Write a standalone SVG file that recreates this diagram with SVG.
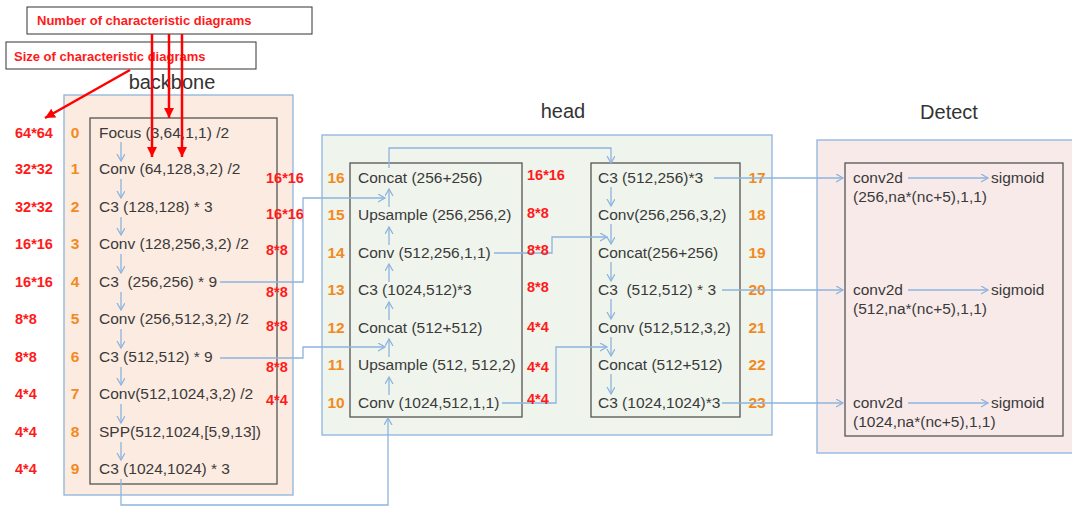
<svg xmlns="http://www.w3.org/2000/svg" width="1072" height="507" viewBox="0 0 1072 507">
<style>
.t{font-family:"Liberation Sans",Arial,sans-serif;font-size:15.5px;fill:#3a3a3a;white-space:pre}
.n{font-family:"Liberation Sans",Arial,sans-serif;font-size:15.5px;font-weight:bold;fill:#f28a22;text-anchor:middle}
.r{font-family:"Liberation Sans",Arial,sans-serif;font-size:13px;font-weight:bold;fill:#ff1a1a}
.s{font-family:"Liberation Sans",Arial,sans-serif;font-size:14.5px;font-weight:bold;fill:#ff1a1a}
.h{font-family:"Liberation Sans",Arial,sans-serif;font-size:20px;fill:#333;text-anchor:middle}
.c{fill:none;stroke:#8db4de;stroke-width:1.3}
.ca{fill:none;stroke:#8db4de;stroke-width:1.3;marker-end:url(#ah)}
.rl{stroke:#ff0000;stroke-width:2.5;fill:none;marker-end:url(#rh)}
.box{fill:none;stroke:#555;stroke-width:1.3}
</style>
<defs>
<marker id="ah" markerUnits="userSpaceOnUse" markerWidth="10" markerHeight="10" refX="7" refY="4" orient="auto">
<path d="M0,0 L7,4 L0,8" fill="none" stroke="#8db4de" stroke-width="1.3"/>
</marker>
<marker id="rh" markerUnits="userSpaceOnUse" markerWidth="14" markerHeight="14" refX="10" refY="5" orient="auto">
<path d="M0,0 L10,5 L0,10 Z" fill="#ff0000"/>
</marker>
</defs>

<g id="backbone">
<rect x="64" y="95" width="229" height="400" fill="#fcebe1" stroke="#8db4de" stroke-width="1.3"/>
<text class="h" x="172" y="89">backbone</text>
<rect class="box" x="90" y="118" width="187" height="366"/>
<g class="bb-rows">
<text class="n" x="75" y="138">0</text><text class="t" x="99" y="138">Focus (3,64,1,1) /2</text>
<text class="n" x="75" y="174">1</text><text class="t" x="99" y="174">Conv (64,128,3,2) /2</text>
<text class="n" x="75" y="212">2</text><text class="t" x="99" y="212">C3 (128,128) * 3</text>
<text class="n" x="75" y="249">3</text><text class="t" x="99" y="249">Conv (128,256,3,2) /2</text>
<text class="n" x="75" y="287">4</text><text class="t" x="99" y="287">C3  (256,256) * 9</text>
<text class="n" x="75" y="324">5</text><text class="t" x="99" y="324">Conv (256,512,3,2) /2</text>
<text class="n" x="75" y="362">6</text><text class="t" x="99" y="362">C3 (512,512) * 9</text>
<text class="n" x="75" y="399">7</text><text class="t" x="99" y="399">Conv(512,1024,3,2) /2</text>
<text class="n" x="75" y="437">8</text><text class="t" x="99" y="437">SPP(512,1024,[5,9,13])</text>
<text class="n" x="75" y="474">9</text><text class="t" x="99" y="474">C3 (1024,1024) * 3</text>
</g>
</g>

<g id="head">
<rect x="322" y="135" width="450" height="300" fill="#eff4ec" stroke="#8db4de" stroke-width="1.3"/>
<text class="h" x="563" y="118">head</text>
<rect class="box" x="350" y="163" width="172" height="254"/>
<rect class="box" x="591" y="163" width="149" height="254"/>
<text class="n" x="336" y="183">16</text><text class="t" x="358" y="183">Concat (256+256)</text>
<text class="n" x="336" y="220">15</text><text class="t" x="358" y="220">Upsample (256,256,2)</text>
<text class="n" x="336" y="258">14</text><text class="t" x="358" y="258">Conv (512,256,1,1)</text>
<text class="n" x="336" y="295">13</text><text class="t" x="358" y="295">C3 (1024,512)*3</text>
<text class="n" x="336" y="333">12</text><text class="t" x="358" y="333">Concat (512+512)</text>
<text class="n" x="336" y="370">11</text><text class="t" x="358" y="370">Upsample (512, 512,2)</text>
<text class="n" x="336" y="408">10</text><text class="t" x="358" y="408">Conv (1024,512,1,1)</text>
<text class="n" x="757" y="183">17</text><text class="t" x="598" y="183">C3 (512,256)*3</text>
<text class="n" x="757" y="220">18</text><text class="t" x="598" y="220">Conv(256,256,3,2)</text>
<text class="n" x="757" y="258">19</text><text class="t" x="598" y="258">Concat(256+256)</text>
<text class="n" x="757" y="295">20</text><text class="t" x="598" y="295">C3  (512,512) * 3</text>
<text class="n" x="757" y="333">21</text><text class="t" x="598" y="333">Conv (512,512,3,2)</text>
<text class="n" x="757" y="370">22</text><text class="t" x="598" y="370">Concat (512+512)</text>
<text class="n" x="757" y="408">23</text><text class="t" x="598" y="408">C3 (1024,1024)*3</text>
</g>

<g id="detect">
<rect x="817" y="140" width="270" height="313" fill="#f9eaea" stroke="#8db4de" stroke-width="1.3"/>
<text class="h" x="949" y="119">Detect</text>
<rect class="box" x="845" y="163" width="218" height="273"/>
<text class="t" x="853" y="183">conv2d</text><text class="t" x="991" y="183">sigmoid</text>
<text class="t" x="853" y="202">(256,na*(nc+5),1,1)</text>
<text class="t" x="853" y="295">conv2d</text><text class="t" x="991" y="295">sigmoid</text>
<text class="t" x="853" y="314">(512,na*(nc+5),1,1)</text>
<text class="t" x="853" y="408">conv2d</text><text class="t" x="991" y="408">sigmoid</text>
<text class="t" x="853" y="427">(1024,na*(nc+5),1,1)</text>
</g>

<g id="connectors">
<line class="ca" x1="121" y1="142" x2="121" y2="161"/>
<line class="ca" x1="121" y1="179" x2="121" y2="198"/>
<line class="ca" x1="121" y1="217" x2="121" y2="235"/>
<line class="ca" x1="121" y1="254" x2="121" y2="273"/>
<line class="ca" x1="121" y1="292" x2="121" y2="310"/>
<line class="ca" x1="121" y1="329" x2="121" y2="348"/>
<line class="ca" x1="121" y1="367" x2="121" y2="385"/>
<line class="ca" x1="121" y1="404" x2="121" y2="423"/>
<line class="ca" x1="121" y1="442" x2="121" y2="460"/>
<line class="ca" x1="389" y1="395" x2="389" y2="377"/>
<line class="ca" x1="389" y1="357" x2="389" y2="339"/>
<line class="ca" x1="389" y1="320" x2="389" y2="302"/>
<line class="ca" x1="389" y1="282" x2="389" y2="264"/>
<line class="ca" x1="389" y1="245" x2="389" y2="227"/>
<line class="ca" x1="389" y1="207" x2="389" y2="189"/>
<line class="ca" x1="611" y1="187" x2="611" y2="206"/>
<line class="ca" x1="611" y1="224" x2="611" y2="244"/>
<line class="ca" x1="611" y1="262" x2="611" y2="281"/>
<line class="ca" x1="611" y1="299" x2="611" y2="319"/>
<line class="ca" x1="611" y1="337" x2="611" y2="356"/>
<line class="ca" x1="611" y1="374" x2="611" y2="394"/>
<polyline class="ca" points="220,282 303,282 303,198 385,198"/>
<polyline class="ca" points="220,358 303,358 303,347 385,347"/>
<polyline class="ca" points="121,479 121,505 388,505 388,418"/>
<polyline class="ca" points="494,253 552,253 552,237 607,237"/>
<polyline class="ca" points="502,403 556,403 556,347 607,347"/>
<polyline class="ca" points="389,168 389,148 611,148 611,163"/>
<polyline class="ca" points="714,178 843,178"/>
<polyline class="ca" points="722,290 843,290"/>
<polyline class="ca" points="722,403 843,403"/>
<line class="ca" x1="908" y1="178" x2="988" y2="178"/>
<line class="ca" x1="908" y1="290" x2="988" y2="290"/>
<line class="ca" x1="908" y1="403" x2="988" y2="403"/>
</g>

<g id="size-labels">
<text class="s" x="15" y="138">64*64</text>
<text class="s" x="15" y="174">32*32</text>
<text class="s" x="15" y="212">32*32</text>
<text class="s" x="15" y="249">16*16</text>
<text class="s" x="15" y="287">16*16</text>
<text class="s" x="15" y="324">8*8</text>
<text class="s" x="15" y="362">8*8</text>
<text class="s" x="15" y="399">4*4</text>
<text class="s" x="15" y="437">4*4</text>
<text class="s" x="15" y="474">4*4</text>
<text class="s" x="266" y="183">16*16</text>
<text class="s" x="266" y="219">16*16</text>
<text class="s" x="266" y="255">8*8</text>
<text class="s" x="266" y="297">8*8</text>
<text class="s" x="266" y="331">8*8</text>
<text class="s" x="266" y="372">8*8</text>
<text class="s" x="266" y="405">4*4</text>
<text class="s" x="527" y="180">16*16</text>
<text class="s" x="527" y="218">8*8</text>
<text class="s" x="527" y="255">8*8</text>
<text class="s" x="527" y="292">8*8</text>
<text class="s" x="527" y="332">4*4</text>
<text class="s" x="527" y="372">4*4</text>
<text class="s" x="527" y="404">4*4</text>
</g>

<g id="annotations">
<rect x="27" y="7" width="285" height="27" fill="#fff" stroke="#333" stroke-width="1"/>
<text class="r" x="37" y="25">Number of characteristic diagrams</text>
<rect x="6" y="42" width="250" height="27" fill="#fff" stroke="#333" stroke-width="1"/>
<text class="r" x="14" y="61">Size of characteristic diagrams</text>
<line class="rl" x1="152" y1="34" x2="152" y2="157"/>
<line class="rl" x1="182" y1="34" x2="182" y2="157"/>
<line class="rl" x1="169" y1="34" x2="169" y2="118"/>
<line class="rl" x1="130" y1="70" x2="45" y2="118"/>
</g>
</svg>
